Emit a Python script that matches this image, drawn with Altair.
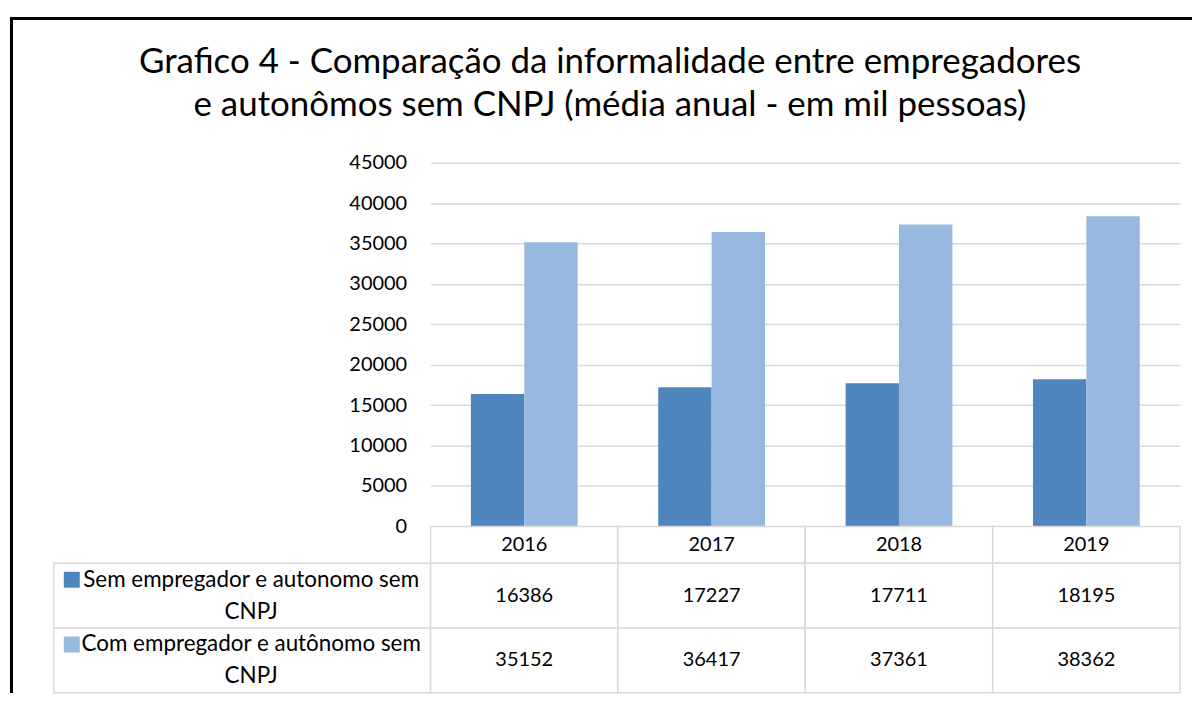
import altair as alt
import pandas as pd

# ---- data ----
years = ["2016", "2017", "2018", "2019"]
series = ["Sem empregador e autonomo sem CNPJ", "Com empregador e autônomo sem CNPJ"]
series_lines = [["Sem empregador e autonomo sem", "CNPJ"], ["Com empregador e autônomo sem", "CNPJ"]]
sem_values = [16386, 17227, 17711, 18195]
com_values = [35152, 36417, 37361, 38362]
y_ticks = [0, 5000, 10000, 15000, 20000, 25000, 30000, 35000, 40000, 45000]
colors = ["#4F85BD", "#97B9E0"]
title_lines = [
    "Grafico 4 - Comparação da informalidade entre empregadores",
    "e autonômos sem CNPJ (média anual - em mil pessoas)",
]

FONT = "Lato"
GRID = "#D9D9D9"
TXT = "#000000"
FS = 20
LFS = 22.5

rows = []
for s, vals in zip(series, [sem_values, com_values]):
    for y, v in zip(years, vals):
        rows.append({"year": y, "series": s, "value": v})
df = pd.DataFrame(rows)
lab_df = pd.DataFrame({"series": series, "label": ["\n".join(l) for l in series_lines]})
year_df = pd.DataFrame({"year": years})

LEFT_W = 378
PLOT_W = 752
PLOT_H = 365
HEAD_H = 37
TAB_H = 130

color_scale = alt.Scale(domain=series, range=colors)
series_y = alt.Y("series:N", scale=alt.Scale(domain=series, paddingInner=0, paddingOuter=0), axis=None)
year_x = alt.X("year:N", scale=alt.Scale(domain=years, paddingInner=0, paddingOuter=0), axis=None)

# ---- bars ----
bars = alt.Chart(df).mark_bar().encode(
    x=alt.X("year:N", scale=alt.Scale(domain=years, paddingInner=0.43, paddingOuter=0.215), axis=None),
    xOffset=alt.XOffset("series:N", scale=alt.Scale(domain=series, paddingInner=0, paddingOuter=0)),
    y=alt.Y("value:Q", scale=alt.Scale(domain=[0, 45000], nice=False),
            axis=alt.Axis(values=y_ticks, format="d", title=None, domain=False, ticks=False, grid=True,
                          gridColor=GRID, gridWidth=1.5, labelFont=FONT, labelFontSize=FS,
                          labelColor=TXT, labelPadding=24)),
    color=alt.Color("series:N", scale=color_scale, legend=None),
).properties(
    width=PLOT_W, height=PLOT_H,
    title=alt.TitleParams(text=title_lines, font=FONT, fontSize=35, fontWeight="normal",
                          color=TXT, anchor="middle", frame="group", dx=-196, offset=30,
                          lineHeight=43),
)

# ---- top-left blank with chart frame ----
frame_top = alt.Chart(year_df).mark_rule(color="black", strokeWidth=3).encode(
    x=alt.value(-44), x2=alt.value(1142), y=alt.value(-144.5))
frame_left = alt.Chart(year_df).mark_rule(color="black", strokeWidth=3).encode(
    x=alt.value(-42.5), y=alt.value(-146), y2=alt.value(532))
top_left = alt.layer(frame_top, frame_left).properties(width=LEFT_W, height=PLOT_H)

# ---- header row ----
blank_mid = alt.Chart(year_df).mark_text().encode(text=alt.value("")).properties(width=LEFT_W, height=HEAD_H)
head_base = alt.Chart(year_df).encode(x=year_x)
header = alt.layer(
    head_base.mark_rect(fill="white", stroke=GRID, strokeWidth=1.5),
    head_base.mark_text(font=FONT, fontSize=FS, color=TXT, baseline="middle").encode(text="year:N"),
).properties(width=PLOT_W, height=HEAD_H)

# ---- row labels ----
lab_base = alt.Chart(lab_df).encode(y=series_y)
labels = alt.layer(
    lab_base.mark_rect(fill="white", stroke=GRID, strokeWidth=1.5),
    lab_base.mark_square(size=256, opacity=1, xOffset=-171, yOffset=-16).encode(
        color=alt.Color("series:N", scale=color_scale, legend=None)),
    lab_base.mark_text(font=FONT, fontSize=LFS, color=TXT, align="center", baseline="middle",
                       lineBreak="\n", lineHeight=32, dx=9, dy=-16).encode(text="label:N"),
).properties(width=LEFT_W, height=TAB_H)

# ---- values table ----
tab_base = alt.Chart(df).encode(x=year_x, y=series_y)
table = alt.layer(
    tab_base.mark_rect(fill="white", stroke=GRID, strokeWidth=1.5),
    tab_base.mark_text(font=FONT, fontSize=FS, color=TXT, baseline="middle").encode(text="value:Q"),
).properties(width=PLOT_W, height=TAB_H)

chart = alt.concat(
    top_left, bars, blank_mid, header, labels, table,
    columns=2, spacing=0, bounds="flush",
).properties(
    padding={"left": 0, "top": 6, "right": 0, "bottom": 0},
).configure(background="white").configure_view(stroke=None)

chart.save("out.html", embed_options={"renderer": "svg", "actions": False})
